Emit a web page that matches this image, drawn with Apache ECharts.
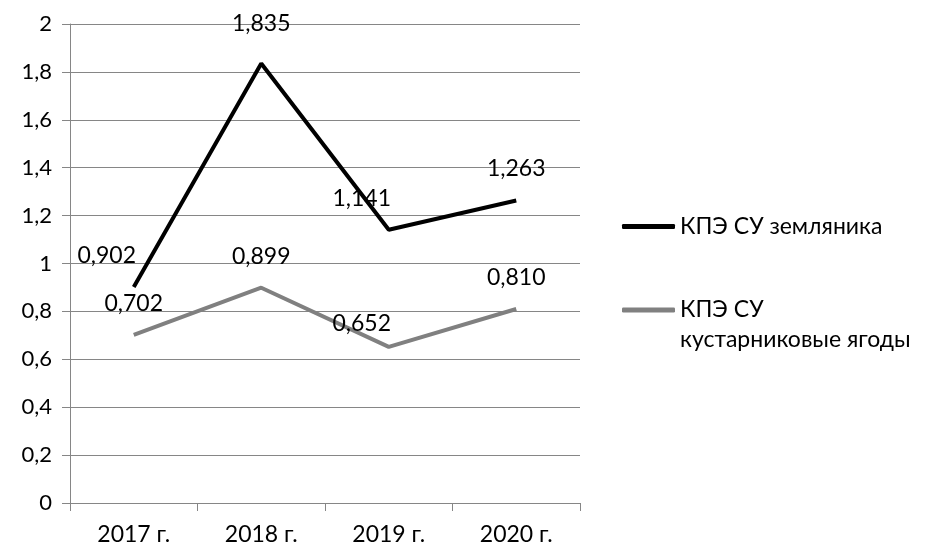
<!DOCTYPE html>
<html><head><meta charset="utf-8">
<script src="https://cdn.jsdelivr.net/npm/echarts@6/dist/echarts.min.js"></script>
<style>html,body{margin:0;padding:0;background:#fff}#c{width:928px;height:549px}</style>
</head><body><div id="c"></div>
<script>
const categories = ['2017 г.', '2018 г.', '2019 г.', '2020 г.'];
const seriesNames = ['КПЭ СУ земляника', 'КПЭ СУ\nкустарниковые ягоды'];
const strawberry = [0.902, 1.835, 1.141, 1.263];
const berries = [0.702, 0.899, 0.652, 0.810];
const yTicks = [0, 0.2, 0.4, 0.6, 0.8, 1, 1.2, 1.4, 1.6, 1.8, 2];

const FONT = 'Lato, "Liberation Sans", sans-serif';
const fmt = v => v.toFixed(3).replace('.', ',');
const offA = [[-27, 0], [0, -8], [-27, 0], [0, 0]];
const offB = [[0, 0], [0, 0], [-27, 8], [0, 0]];

const chart = echarts.init(document.getElementById('c'), null, {renderer: 'canvas'});
chart.setOption({
  animation: false,
  grid: {left: 70, right: 348, top: 24, bottom: 46, containLabel: false},
  xAxis: {
    type: 'category', data: categories, boundaryGap: true,
    axisLine: {lineStyle: {color: '#868686', width: 1}},
    axisTick: {show: true, length: 8, lineStyle: {color: '#868686'}},
    axisLabel: {color: '#000', fontFamily: FONT, fontSize: 23, margin: 20}
  },
  yAxis: {
    type: 'value', min: 0, max: 2, interval: 0.2,
    axisLine: {show: true, lineStyle: {color: '#868686', width: 1}},
    axisTick: {show: true, length: 8, lineStyle: {color: '#868686'}},
    splitLine: {lineStyle: {color: '#868686', width: 1}},
    axisLabel: {color: '#000', fontFamily: FONT, fontSize: 22, margin: 18,
      formatter: v => {
        const t = yTicks.find(x => Math.abs(x - v) < 1e-9);
        return t === undefined ? '' : String(t).replace('.', ',');
      }}
  },
  legend: [
    {data: [seriesNames[0]], left: 617, top: 210, icon: 'roundRect', itemWidth: 53, itemHeight: 5,
     textStyle: {color: '#000', fontFamily: FONT, fontSize: 23}},
    {data: [seriesNames[1]], left: 617, top: 260, icon: 'roundRect', itemWidth: 53, itemHeight: 5,
     formatter: n => ' \n' + n,
     textStyle: {color: '#000', fontFamily: FONT, fontSize: 23, lineHeight: 30}}
  ],
  series: [
    {name: seriesNames[0], type: 'line', symbol: 'circle', symbolSize: 0, showSymbol: true,
     lineStyle: {color: '#000', width: 4}, itemStyle: {color: '#000'},
     data: strawberry.map((v, i) => ({value: v, label: {offset: offA[i]}})),
     label: {show: true, position: 'top', distance: 20, color: '#000', fontFamily: FONT, fontSize: 23,
       formatter: p => fmt(p.value)}},
    {name: seriesNames[1], type: 'line', symbol: 'circle', symbolSize: 0, showSymbol: true,
     lineStyle: {color: '#808080', width: 4}, itemStyle: {color: '#808080'},
     data: berries.map((v, i) => ({value: v, label: {offset: offB[i]}})),
     label: {show: true, position: 'top', distance: 20, color: '#000', fontFamily: FONT, fontSize: 23,
       formatter: p => fmt(p.value)}}
  ]
});
</script></body></html>
